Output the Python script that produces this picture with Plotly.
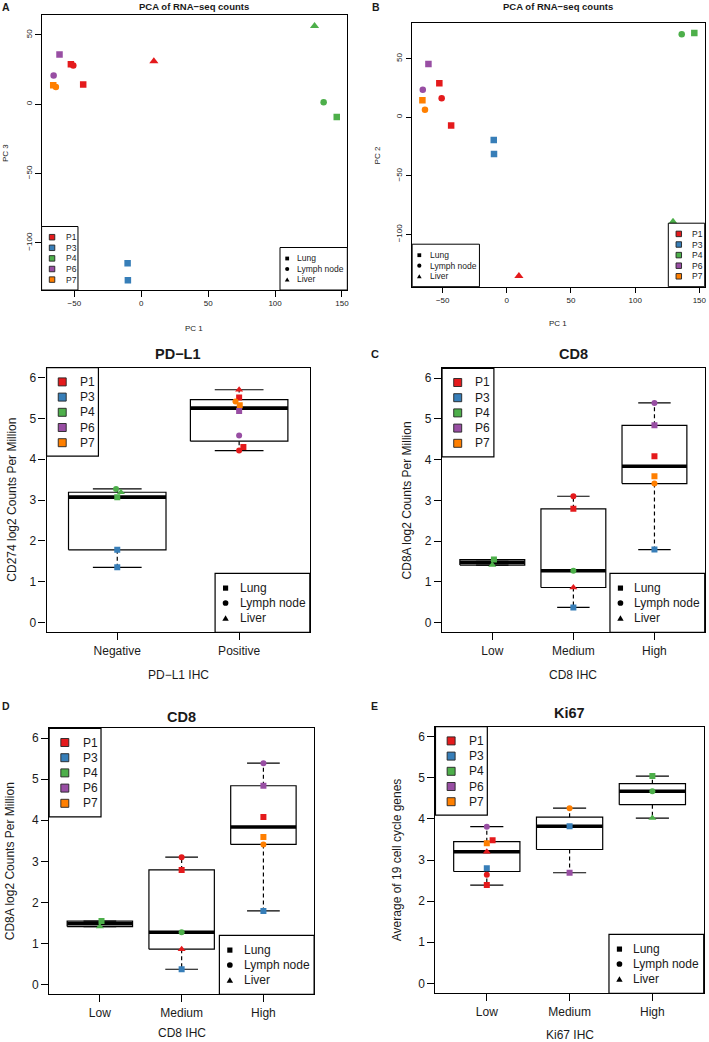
import math
import plotly.graph_objects as go

W, H = 709, 1042

# ---------------- data ----------------
patients = ["P1", "P3", "P4", "P6", "P7"]
patient_colors = ["#E41A1C", "#377EB8", "#4DAF4A", "#984EA3", "#FF7F00"]
tissues = ["Lung", "Lymph node", "Liver"]
tissue_symbols = ["square", "circle", "triangle-up"]

# PCA of RNA-seq counts (13 samples)
pca_patient = ["P1", "P1", "P1", "P1", "P3", "P3", "P4", "P4", "P4", "P6", "P6", "P7", "P7"]
pca_tissue = ["Lung", "Lung", "Lymph node", "Liver", "Lung", "Lung", "Lung", "Lymph node", "Liver",
              "Lung", "Lymph node", "Lung", "Lymph node"]
pc1 = [-52.6, -43.4, -50.8, 9.4, -10.2, -10.0, 146.1, 136.3, 129.5, -61.1, -65.5, -65.8, -63.8]
pc2 = [29.0, -7.0, 16.2, -135.4, -19.4, -31.3, 71.9, 70.8, -89.0, 45.5, 23.6, 14.5, 6.5]
pc3 = [28.9, 14.2, 27.9, 31.0, -114.7, -127.0, -9.1, 1.4, 56.5, 35.9, 20.7, 13.7, 12.5]
pca_xticks = [-50, 0, 50, 100, 150]
pca_yticks = [-100, -50, 0, 50]

# PD-L1
pdl1_cats = ["Negative", "Positive"]
pdl1_group = ["Negative"] * 5 + ["Positive"] * 8
pdl1_patient = ["P4", "P4", "P4", "P3", "P3", "P1", "P1", "P7", "P7", "P6", "P6", "P1", "P1"]
pdl1_tissue = ["Lymph node", "Liver", "Lung", "Lung", "Lung",
               "Liver", "Lung", "Lymph node", "Lung", "Lung", "Lymph node", "Lung", "Lymph node"]
pdl1_value = [3.27, 3.19, 3.07, 1.78, 1.35, 5.70, 5.51, 5.41, 5.32, 5.18, 4.58, 4.30, 4.21]
pdl1_jitter = [-0.01, 0.03, 0.0, 0.0, 0.0, 0.0, 0.0, -0.03, 0.005, 0.0, 0.0, 0.035, 0.0]

# CD8
cd8_cats = ["Low", "Medium", "High"]
cd8_group = ["Low"] * 2 + ["Medium"] * 5 + ["High"] * 6
cd8_patient = ["P4", "P4", "P1", "P1", "P4", "P1", "P3", "P6", "P6", "P1", "P7", "P7", "P3"]
cd8_tissue = ["Lung", "Liver", "Lymph node", "Lung", "Lymph node", "Liver", "Lung",
              "Lymph node", "Lung", "Lung", "Lung", "Lymph node", "Lung"]
cd8_value = [1.545, 1.41, 3.10, 2.79, 1.27, 0.86, 0.37, 5.39, 4.84, 4.08, 3.59, 3.41, 1.79]
cd8_jitter = [0.02, 0.0, 0.0, 0.0, 0.0, 0.0, 0.0, 0.0, 0.0, 0.0, 0.0, 0.0, 0.0]

# Ki67
ki67_cats = ["Low", "Medium", "High"]
ki67_group = ["Low"] * 7 + ["Medium"] * 3 + ["High"] * 3
ki67_patient = ["P6", "P1", "P7", "P1", "P3", "P1", "P1", "P7", "P3", "P6", "P4", "P4", "P4"]
ki67_tissue = ["Lymph node", "Lung", "Lung", "Liver", "Lung", "Lymph node", "Lung",
               "Lymph node", "Lung", "Lung", "Lung", "Lymph node", "Liver"]
ki67_value = [3.81, 3.48, 3.41, 3.20, 2.80, 2.64, 2.39, 4.26, 3.82, 2.69, 5.04, 4.67, 4.02]
ki67_jitter = [0.0, 0.07, 0.0, 0.0, 0.0, 0.0, 0.0, 0.0, 0.0, 0.0, 0.0, 0.0, 0.0]

# ---------------- helpers ----------------
FONT = "Liberation Sans, Arial, Helvetica, sans-serif"
TXT = "#1a1a1a"


def px(x):
    return x / W


def py(y):
    return 1 - y / H


color_of = dict(zip(patients, patient_colors))
symbol_of = dict(zip(tissues, tissue_symbols))


def fmt(v):
    return ("\u2212%g" % -v) if v < 0 else "%g" % v


def fivenum(v):
    s = sorted(v)
    n = len(s)
    n4 = math.floor((n + 3) / 2) / 2
    d = [1, n4, (n + 1) / 2, n + 1 - n4, n]
    return [0.5 * (s[math.floor(k) - 1] + s[math.ceil(k) - 1]) for k in d]


def box_stats(v):
    f = fivenum(v)
    iqr = f[3] - f[1]
    inside = [x for x in v if f[1] - 1.5 * iqr <= x <= f[3] + 1.5 * iqr]
    return [min(inside), f[1], f[2], f[3], max(inside)]


fig = go.Figure()
shapes = []
annotations = []


def text(x, y, s, size, bold=False, angle=0, xanchor="center", yanchor="middle", color=TXT):
    annotations.append(dict(
        x=px(x), y=py(y), xref="paper", yref="paper", text=("<b>%s</b>" % s) if bold else s,
        showarrow=False, textangle=angle, xanchor=xanchor, yanchor=yanchor,
        font=dict(family=FONT, size=size, color=color)))


def rect(x0, y0, x1, y1, fill, lw=1.1, color="black"):
    shapes.append(dict(type="rect", xref="paper", yref="paper", layer="above",
                       x0=px(x0), x1=px(x1), y0=py(y1), y1=py(y0),
                       fillcolor=fill, line=dict(color=color, width=lw)))


def glyph(kind, cx, cy, s):
    if kind == "square":
        rect(cx - s / 2, cy - s / 2, cx + s / 2, cy + s / 2, "black", lw=0)
    elif kind == "circle":
        r = s * 0.55
        shapes.append(dict(type="circle", xref="paper", yref="paper", layer="above",
                           x0=px(cx - r), x1=px(cx + r), y0=py(cy + r), y1=py(cy - r),
                           fillcolor="black", line=dict(width=0)))
    else:
        h = s * 1.05
        w = s * 0.62
        path = "M %f,%f L %f,%f L %f,%f Z" % (px(cx - w), py(cy + h / 2), px(cx + w), py(cy + h / 2),
                                             px(cx), py(cy - h / 2))
        shapes.append(dict(type="path", xref="paper", yref="paper", layer="above", path=path,
                           fillcolor="black", line=dict(width=0)))


def patient_legend(L, T, w, h, first, step, sq_dx, txt_dx, sq, fsize, blw):
    rect(L, T, L + w, T + h, "white", lw=blw)
    for i, p in enumerate(patients):
        y = T + first + i * step
        rect(L + sq_dx - sq / 2, y - sq / 2, L + sq_dx + sq / 2, y + sq / 2, color_of[p], lw=0.9, color="#222")
        text(L + txt_dx, y, p, fsize, xanchor="left")


def tissue_legend(L, B, w, h, offs, mk_dx, txt_dx, gs, fsize, blw):
    rect(L, B - h, L + w, B, "white", lw=blw)
    for t, sym, o in zip(tissues, tissue_symbols, offs):
        y = B - o
        glyph(sym, L + mk_dx, y, gs)
        text(L + txt_dx, y, t, fsize, xanchor="left")


axis_common = dict(showline=True, mirror=True, linecolor="black", showgrid=False, zeroline=False,
                   ticks="outside", tickcolor="black", fixedrange=True)


def setup_axes(i, box, xr, yr, xticks, xtext, yticks, ytext, tsize, tlen, yangle, lw):
    L, T, R, B = box
    xa = "xaxis" if i == 1 else "xaxis%d" % i
    ya = "yaxis" if i == 1 else "yaxis%d" % i
    xn = "x" if i == 1 else "x%d" % i
    yn = "y" if i == 1 else "y%d" % i
    fig.layout[xa] = dict(axis_common, domain=[px(L), px(R)], range=xr, anchor=yn,
                          tickvals=xticks, ticktext=xtext, ticklen=tlen, linewidth=lw, tickwidth=lw,
                          tickfont=dict(family=FONT, size=tsize, color=TXT))
    fig.layout[ya] = dict(axis_common, domain=[py(B), py(T)], range=yr, anchor=xn,
                          tickvals=yticks, ticktext=ytext, ticklen=tlen, tickangle=yangle,
                          linewidth=lw, tickwidth=lw,
                          tickfont=dict(family=FONT, size=tsize, color=TXT))
    return xn, yn


def points(xn, yn, xs, ys, pats, tis, sizes):
    fig.add_trace(go.Scatter(
        x=xs, y=ys, xaxis=xn, yaxis=yn, mode="markers", hoverinfo="skip",
        marker=dict(color=[color_of[p] for p in pats], symbol=[symbol_of[t] for t in tis],
                    size=[sizes[t] for t in tis], opacity=1, line=dict(width=0))))


def boxplot_panel(i, box, cats, group, pats, tis, vals, jit, title, ylabel, xlabel, title_y, ylab_x, xlab_y):
    L, T, R, B = box
    n = len(cats)
    yt = [0, 1, 2, 3, 4, 5, 6]
    xn, yn = setup_axes(i, box, [0.5 - 0.04 * n, n + 0.5 + 0.04 * n], [-0.24, 6.24],
                        list(range(1, n + 1)), cats, yt, [fmt(v) for v in yt], 12, 7, 0, 1.2)
    for k, c in enumerate(cats):
        cx = k + 1
        v = [val for g, val in zip(group, vals) if g == c]
        lo, q1, med, q3, hi = box_stats(v)
        hw, cw = 0.4, 0.2
        fig.add_trace(go.Scatter(x=[cx, cx, None, cx, cx], y=[q3, hi, None, q1, lo], xaxis=xn, yaxis=yn,
                                 mode="lines", hoverinfo="skip",
                                 line=dict(color="black", width=1.2, dash="4px,3px")))
        fig.add_trace(go.Scatter(x=[cx - cw, cx + cw, None, cx - cw, cx + cw], y=[hi, hi, None, lo, lo],
                                 xaxis=xn, yaxis=yn, mode="lines", hoverinfo="skip",
                                 line=dict(color="black", width=1.2)))
        fig.add_trace(go.Scatter(x=[cx - hw, cx + hw, cx + hw, cx - hw, cx - hw], y=[q1, q1, q3, q3, q1],
                                 xaxis=xn, yaxis=yn, mode="lines", hoverinfo="skip",
                                 line=dict(color="black", width=1.2)))
        fig.add_trace(go.Scatter(x=[cx - hw, cx + hw], y=[med, med], xaxis=xn, yaxis=yn,
                                 mode="lines", hoverinfo="skip", line=dict(color="black", width=3.6)))
    xs = [cats.index(g) + 1 + j for g, j in zip(group, jit)]
    points(xn, yn, xs, vals, pats, tis, {"Lung": 6, "Lymph node": 6, "Liver": 7})
    text((L + R) / 2, title_y, title, 14.5, bold=True)
    text(ylab_x, (T + B) / 2, ylabel, 12, angle=-90)
    text((L + R) / 2, xlab_y, xlabel, 12)
    patient_legend(L, T, 52, 88.5, 14.2, 15.2, 15.7, 31.5, 8, 12, 1.2)
    tissue_legend(R - 95, B, 95, 59, [44.2, 29.3, 14.3], 10.5, 22.5, 5.2, 12, 1.2)


def pca_panel(i, box, xr, yr, ys, ylabel, ylab_x, title_y, pleg_left, tleg_left):
    L, T, R, B = box
    xn, yn = setup_axes(i, box, xr, yr, pca_xticks, [fmt(v) for v in pca_xticks],
                        pca_yticks, [fmt(v) for v in pca_yticks], 8, 5.5, -90, 1.0)
    points(xn, yn, pc1, ys, pca_patient, pca_tissue, {"Lung": 6.5, "Lymph node": 6.5, "Liver": 8})
    text((L + R) / 2, title_y, "PCA of RNA\u2212seq counts", 9.5, bold=True)
    text(ylab_x, (T + B) / 2, ylabel, 8, angle=-90)
    pl = L if pleg_left else R - 36.5
    patient_legend(pl, B - 63.5, 36.5, 63.5, 10.7, 10.6, 10.5, 22, 5.5, 8.5, 1.0)
    tl = L if tleg_left else R - 67.5
    tissue_legend(tl, B, 67.5, 42.5, [31.5, 21.0, 10.5], 7.2, 15.5, 3.8, 8.5, 1.0)


# ---------------- panels ----------------
boxA = (41.7, 15.0, 348.3, 290.0)
boxB = (413.3, 23.3, 706.7, 286.7)
pca_panel(1, boxA, [-74.5, 154.0], [-134.0, 64.4], pc3, "PC 3", 5.5, 6.0, True, False)
pca_panel(2, boxB, [-73.8, 154.2], [-144.5, 80.2], pc2, "PC 2", 378.5, 6.0, False, True)
text(195, 328, "PC 1", 8)
text(560, 323, "PC 1", 8)

boxP = (46.7, 367.7, 310.7, 632.3)
boxC = (443.3, 368.3, 706.7, 632.3)
boxD = (49.3, 728.3, 315.0, 994.3)
boxE = (436.7, 726.7, 705.7, 993.3)
boxplot_panel(3, boxP, pdl1_cats, pdl1_group, pdl1_patient, pdl1_tissue, pdl1_value, pdl1_jitter,
              "PD\u2212L1", "CD274 log2 Counts Per Million", "PD\u2212L1 IHC", 354, 11.7, 675)
boxplot_panel(4, boxC, cd8_cats, cd8_group, cd8_patient, cd8_tissue, cd8_value, cd8_jitter,
              "CD8", "CD8A log2 Counts Per Million", "CD8 IHC", 354, 408.3, 675)
boxplot_panel(5, boxD, cd8_cats, cd8_group, cd8_patient, cd8_tissue, cd8_value, cd8_jitter,
              "CD8", "CD8A log2 Counts Per Million", "CD8 IHC", 716.7, 10.0, 1033)
boxplot_panel(6, boxE, ki67_cats, ki67_group, ki67_patient, ki67_tissue, ki67_value, ki67_jitter,
              "Ki67", "Average of 19 cell cycle genes", "Ki67 IHC", 713.3, 398.3, 1035)

# panel letters
text(6, 7, "A", 10.5, bold=True)
text(377, 7, "B", 10.5, bold=True)
text(376, 354, "C", 11, bold=True)
text(6, 706, "D", 10.5, bold=True)
text(376, 706, "E", 10.5, bold=True)

fig.update_layout(width=W, height=H, margin=dict(l=0, r=0, t=0, b=0),
                  paper_bgcolor="white", plot_bgcolor="white", showlegend=False,
                  font=dict(family=FONT, color=TXT), shapes=shapes, annotations=annotations)

fig.write_html("out.html", config={"displayModeBar": False},
               post_script="document.body.style.margin='0';document.body.style.overflow='hidden';")
